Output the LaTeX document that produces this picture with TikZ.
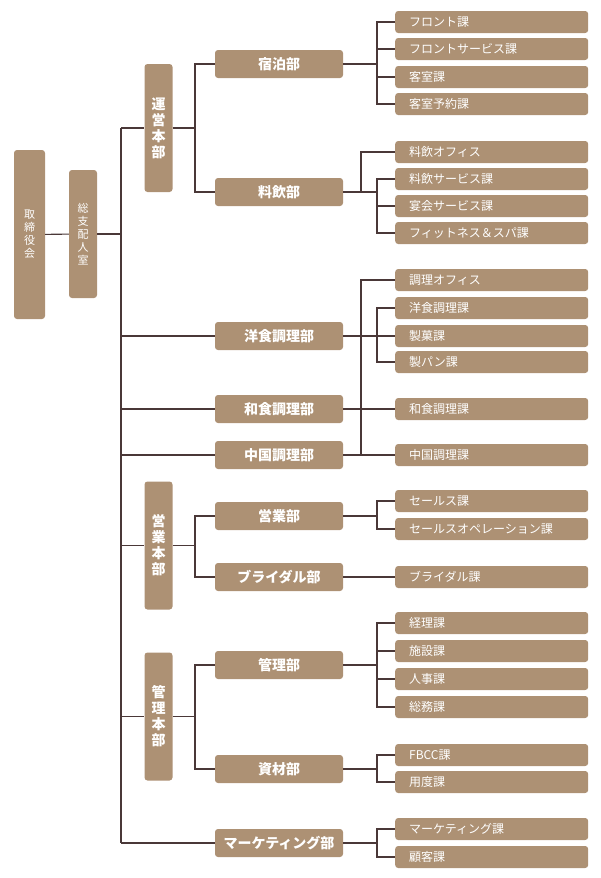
\documentclass[tikz,border=0pt]{standalone}
\usepackage{fontspec}
\setmainfont{Noto Sans CJK JP}
\definecolor{boxbrown}{HTML}{AD9174}
\definecolor{linebrown}{HTML}{4A3838}
\tikzset{
  box/.style={fill=boxbrown, rounded corners=3pt, text=white, inner sep=0pt},
  topbox/.style={box, minimum width=31pt, minimum height=169pt, align=center, font=\fontsize{11}{13}\selectfont},
  hqbox/.style={box, minimum width=28pt, minimum height=128pt, font=\fontsize{14}{16}\selectfont\bfseries, align=center},
  deptbox/.style={box, minimum width=128pt, minimum height=28pt, font=\fontsize{14}{16}\selectfont\bfseries},
  secbox/.style={box, anchor=west, minimum width=193pt, minimum height=22pt, text width=165pt, align=left, font=\fontsize{12}{13}\selectfont, inner xsep=14pt},
  link/.style={draw=linebrown, line width=1.1pt},
}
\begin{document}
\begin{tikzpicture}[x=1pt, y=-1pt]
	\useasboundingbox (0,0) rectangle (600,878);
	% top
	\node[topbox] (board) at (29.5,234.5) {取\\締\\役\\会};
	\node[topbox, minimum width=28pt, minimum height=128pt] (gm) at (83,234) {総\\支\\配\\人\\室};
	\node[hqbox] (ops) at (158.5,128) {運\\営\\本\\部};
	\node[hqbox] (sales) at (158.5,545.5) {営\\業\\本\\部};
	\node[hqbox] (admin) at (158.5,716.5) {管\\理\\本\\部};

	% departments
	\node[deptbox] (room) at (279,64) {宿泊部};
	\node[deptbox] (fb) at (279,192) {料飲部};
	\node[deptbox] (west) at (279,336) {洋食調理部};
	\node[deptbox] (jpn) at (279,409) {和食調理部};
	\node[deptbox] (chn) at (279,455) {中国調理部};
	\node[deptbox] (sal) at (279,516) {営業部};
	\node[deptbox] (brd) at (279,577) {ブライダル部};
	\node[deptbox] (mng) at (279,665) {管理部};
	\node[deptbox] (mat) at (279,769) {資材部};
	\node[deptbox] (mkt) at (279,843) {マーケティング部};

	% sections
	\foreach \n/\y/\t in {s1/22/フロント課, s2/49/フロントサービス課, s3/77/客室課, s4/104/客室予約課,
		s5/152/料飲オフィス, s6/179/料飲サービス課, s7/206/宴会サービス課, s8/233/フィットネス＆スパ課,
		s9/280/調理オフィス, s10/308/洋食調理課, s11/336/製菓課, s12/362/製パン課,
		s13/409/和食調理課, s14/455/中国調理課, s15/501/セールス課, s16/529/セールスオペレーション課,
		s17/577/ブライダル課, s18/623/経理課, s19/651/施設課, s20/679/人事課, s21/707/総務課,
		s22/755/FBCC課, s23/782/用度課, s24/829/マーケティング課, s25/857/顧客課}
		\node[secbox] (\n) at (395,\y) {\t};

	% trunk
	\draw[link] (board) -- (gm);
	\draw[link] (gm.east) -- (121,234);
	\draw[link] (121,128) -- (121,843);
	\foreach \n in {ops, west, jpn, chn, sales, admin, mkt}
		\draw[link] (121,0 |- \n.west) -- (\n.west);

	% headquarters to departments
	\draw[link] (ops.east) -- (195,128);
	\draw[link] (room.west) -| (195,128) |- (fb.west);
	\draw[link] (sales.east) -- (195,545.5);
	\draw[link] (sal.west) -| (195,545.5) |- (brd.west);
	\draw[link] (admin.east) -- (195,716.5);
	\draw[link] (mng.west) -| (195,716.5) |- (mat.west);

	% departments to sections
	\draw[link] (room.east) -- (377,64);
	\draw[link] (s1.west) -| (377,64) |- (s4.west);
	\foreach \n in {s2, s3} \draw[link] (377,0 |- \n.west) -- (\n.west);
	\draw[link] (fb.east) -- (377,192);
	\draw[link] (s5.west) -| (361,192);
	\draw[link] (s6.west) -| (377,192) |- (s8.west);
	\draw[link] (377,0 |- s7.west) -- (s7.west);
	\draw[link] (s9.west) -| (361,455);
	\draw[link] (west.east) -- (s11.west);
	\draw[link] (s10.west) -| (377,336) |- (s12.west);
	\draw[link] (jpn.east) -- (s13.west);
	\draw[link] (chn.east) -- (s14.west);
	\draw[link] (sal.east) -- (377,516);
	\draw[link] (s15.west) -| (377,516) |- (s16.west);
	\draw[link] (brd.east) -- (s17.west);
	\draw[link] (mng.east) -- (377,665);
	\draw[link] (s18.west) -| (377,665) |- (s21.west);
	\foreach \n in {s19, s20} \draw[link] (377,0 |- \n.west) -- (\n.west);
	\draw[link] (mat.east) -- (377,769);
	\draw[link] (s22.west) -| (377,769) |- (s23.west);
	\draw[link] (mkt.east) -- (377,843);
	\draw[link] (s24.west) -| (377,843) |- (s25.west);
\end{tikzpicture}
\end{document}
